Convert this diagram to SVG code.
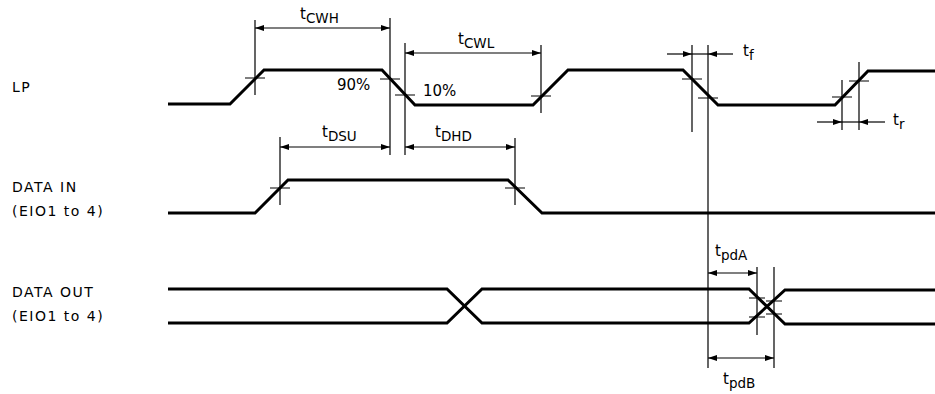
<svg xmlns="http://www.w3.org/2000/svg" width="935" height="394" viewBox="0 0 935 394">
<style>
.wave{fill:none;stroke:#000;stroke-width:3;stroke-linejoin:miter}
.dim{fill:none;stroke:#000;stroke-width:1.2}
.arr{fill:none;stroke:#000;stroke-width:1.2;marker-end:url(#ah)}
.arr2{fill:none;stroke:#000;stroke-width:1.2;marker-start:url(#ah);marker-end:url(#ah)}
text{font-family:"DejaVu Sans","Liberation Sans",sans-serif;font-size:15px;fill:#000}
.lbl{font-size:14px;letter-spacing:1.5px}
.sub{font-size:13.5px}
</style>
<defs>
<marker id="ah" markerUnits="userSpaceOnUse" markerWidth="9" markerHeight="6" refX="9" refY="3" orient="auto-start-reverse">
<path d="M0,0 L9,3 L0,6 z" fill="#000"/>
</marker>
</defs>
<g id="labels">
<text class="lbl" x="12" y="92">LP</text>
<text class="lbl" x="12" y="192">DATA IN</text>
<text class="lbl" x="12" y="216">(EIO1 to 4)</text>
<text class="lbl" x="12" y="297">DATA OUT</text>
<text class="lbl" x="12" y="321">(EIO1 to 4)</text>
</g>
<g id="waveforms">
<path id="lp" class="wave" d="M168,104 L230,104 L264,70 L382,70 L415,105 L533,105 L568,70 L683,70 L718,105 L835,105 L868,71 L935,71"/>
<path id="datain" class="wave" d="M168,213 L255,213 L288,180 L508,180 L542,213 L935,213"/>
<path id="dataout-a" class="wave" d="M168,289 L447,289 L482,323 L749,323 L785,290 L935,290"/>
<path id="dataout-b" class="wave" d="M168,323 L447,323 L482,289 L749,289 L785,324 L935,324"/>
</g>
<g id="connectors">
<path class="dim" d="M255,20 V95 M390,18 V155 M405,43 V155 M541,45 V113 M280,137 V205 M515,138 V205 M692,45 V132 M708,45 V368 M842,80 V130 M859,62 V130 M757,267 V335 M774,267 V368"/>
<path class="dim" d="M245,78 H265 M380,79 H400 M395,95 H415 M531,96 H551 M270,188 H290 M505,188 H525 M682,79 H702 M698,98 H718 M832,97 H852 M849,81 H869 M749,298 H765 M749,317 H765 M766,301 H782 M766,314 H782"/>
<line class="arr2" x1="255" y1="28" x2="390" y2="28"/>
<line class="arr2" x1="405" y1="53" x2="541" y2="53"/>
<line class="arr2" x1="280" y1="147" x2="390" y2="147"/>
<line class="arr2" x1="405" y1="147" x2="515" y2="147"/>
<line class="arr2" x1="708" y1="273" x2="757" y2="273"/>
<line class="arr2" x1="708" y1="358" x2="774" y2="358"/>
<line class="arr" x1="667" y1="54" x2="692" y2="54"/>
<line class="arr" x1="733" y1="54" x2="708" y2="54"/>
<line class="dim" x1="692" y1="54" x2="708" y2="54"/>
<line class="arr" x1="817" y1="122" x2="842" y2="122"/>
<line class="arr" x1="885" y1="122" x2="859" y2="122"/>
<line class="dim" x1="842" y1="122" x2="859" y2="122"/>
</g>
<g id="timing-labels">
<text x="300" y="19">t<tspan class="sub" dy="4">CWH</tspan></text>
<text x="458" y="44">t<tspan class="sub" dy="4">CWL</tspan></text>
<text x="322" y="137">t<tspan class="sub" dy="4">DSU</tspan></text>
<text x="435" y="137">t<tspan class="sub" dy="4">DHD</tspan></text>
<text x="743" y="56">t<tspan class="sub" dy="4">f</tspan></text>
<text x="893" y="125">t<tspan class="sub" dy="4">r</tspan></text>
<text x="715" y="256">t<tspan class="sub" dy="4">pdA</tspan></text>
<text x="723" y="384">t<tspan class="sub" dy="4">pdB</tspan></text>
<text x="337" y="90">90%</text>
<text x="423" y="96">10%</text>
</g>
</svg>
